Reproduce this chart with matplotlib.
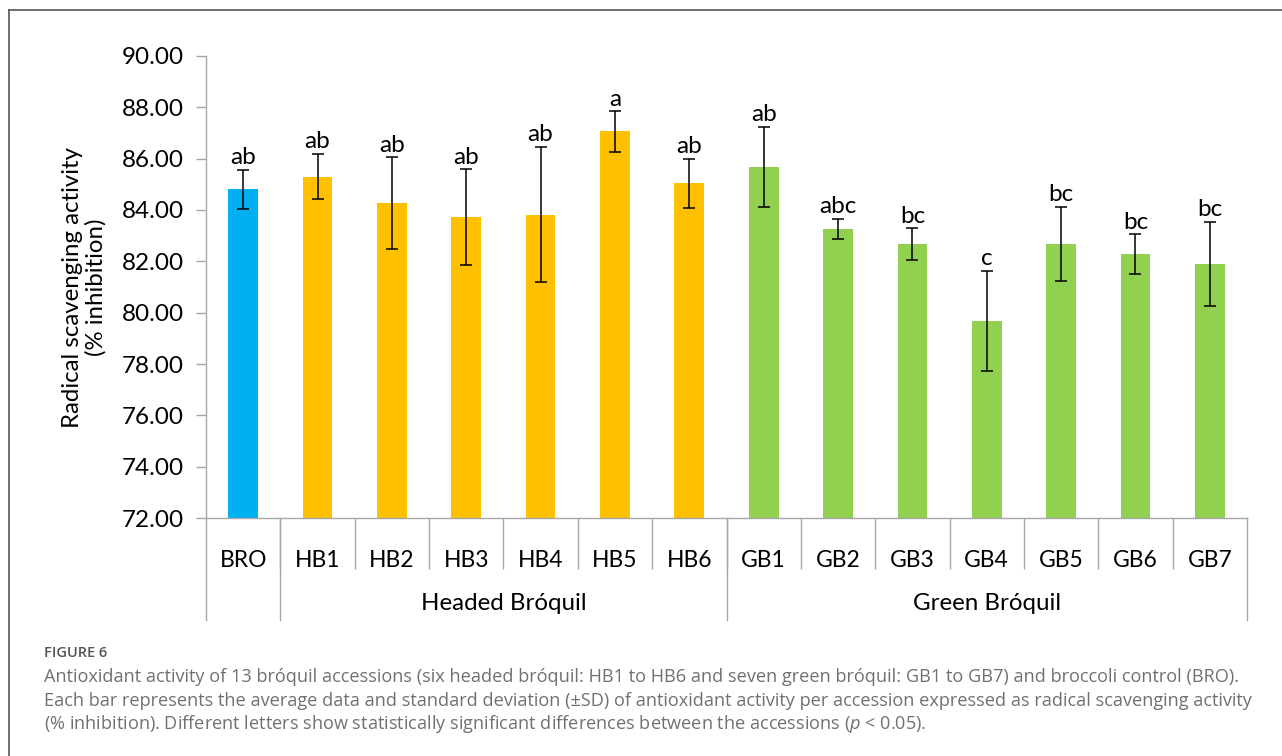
import matplotlib

matplotlib.use("Agg")
import matplotlib.pyplot as plt  # noqa: E402
from matplotlib.lines import Line2D  # noqa: E402
import numpy as np  # noqa: E402

# radical scavenging activity (% inhibition), mean and SD per accession
accessions = ["BRO", "HB1", "HB2", "HB3", "HB4", "HB5", "HB6",
              "GB1", "GB2", "GB3", "GB4", "GB5", "GB6", "GB7"]
groups = ["BRO", "HB", "HB", "HB", "HB", "HB", "HB",
          "GB", "GB", "GB", "GB", "GB", "GB", "GB"]
means = [84.80, 85.30, 84.28, 83.72, 83.82, 87.06, 85.04,
         85.68, 83.26, 82.68, 79.68, 82.68, 82.28, 81.90]
sd = [0.77, 0.89, 1.78, 1.88, 2.64, 0.79, 0.96,
      1.57, 0.40, 0.61, 1.95, 1.45, 0.77, 1.65]
letters = ["ab", "ab", "ab", "ab", "ab", "a", "ab",
           "ab", "abc", "bc", "c", "bc", "bc", "bc"]
group_labels = ["Headed Bróquil", "Green Bróquil"]

colors = {"BRO": "#00B0F0", "HB": "#FFC000", "GB": "#92D050"}
grey = "#A6A6A6"
font = ["Lato", "DejaVu Sans"]
cap_font = ["Open Sans", "DejaVu Sans"]

caption_lines = [
    "Antioxidant activity of 13 bróquil accessions (six headed bróquil: HB1 to HB6 and seven green "
    "bróquil: GB1 to GB7) and broccoli control (BRO).",
    "Each bar represents the average data and standard deviation (±SD) of antioxidant activity per "
    "accession expressed as radical scavenging activity",
    "(% inhibition). Different letters show statistically significant differences between the "
    "accessions ($\\it{p}$ < 0.05).",
]

plt.rcParams["font.family"] = font
plt.rcParams["mathtext.fontset"] = "custom"
plt.rcParams["mathtext.it"] = "Open Sans:italic"

fig = plt.figure(figsize=(12.82, 7.56), dpi=100)
ax = fig.add_axes([206 / 1282, 1 - 518 / 756, (1247 - 206) / 1282, (518 - 56) / 756])

x = np.arange(len(accessions))
ax.bar(x, np.array(means) - 72, bottom=72, width=0.4,
       color=[colors[g] for g in groups], zorder=2)
ax.errorbar(x, means, yerr=sd, fmt="none", ecolor="black", elinewidth=1.1,
            capsize=4.6, capthick=1.1, zorder=3)
for xi, m, s, lab in zip(x, means, sd, letters):
    ax.annotate(lab, (xi, m + s), xytext=(0, 1), textcoords="offset points",
                ha="center", va="bottom", fontsize=17.5, color="black")

ax.set_xlim(-0.5, len(accessions) - 0.5)
ax.set_ylim(72, 90)
ax.set_yticks(np.arange(72, 90.1, 2))
ax.set_yticklabels([f"{v:.2f}" for v in np.arange(72, 90.1, 2)])
ax.tick_params(axis="y", length=7, width=1, color=grey, pad=9, labelsize=17.5)
ax.set_xticks(x)
ax.set_xticklabels(accessions)
ax.tick_params(axis="x", which="major", length=0, pad=23, labelsize=16.5)
ax.set_xticks(x[1:] - 0.5, minor=True)
ax.tick_params(axis="x", which="minor", length=37, width=1, color=grey, direction="out")

for side in ["top", "right"]:
    ax.spines[side].set_visible(False)
for side in ["left", "bottom"]:
    ax.spines[side].set_color(grey)
    ax.spines[side].set_linewidth(1)

ax.set_ylabel("Radical scavenging activity\n(% inhibition)", fontsize=17.3, labelpad=11,
              linespacing=1.1)

# second level of the category axis
trans = ax.get_xaxis_transform()
for xs in [-0.5, 0.5, 6.5, len(accessions) - 0.5]:
    ax.plot([xs, xs], [0, -0.221], transform=trans, color=grey, lw=1, clip_on=False)
ax.text(3.5, -0.184, group_labels[0], transform=trans, ha="center", va="center", fontsize=17.4)
ax.text(10.0, -0.184, group_labels[1], transform=trans, ha="center", va="center", fontsize=17.4)

# caption under the chart
fig.text(44 / 1282, 1 - 653 / 756, "FIGURE 6", fontsize=10.5, color="#555555",
         ha="left", va="center", family=cap_font, fontweight="semibold")
for i, line in enumerate(caption_lines):
    fig.text(44 / 1282, 1 - (677 + 23.5 * i) / 756, line, fontsize=13.1, color="#707070",
             ha="left", va="center", family=cap_font)

# outer frame
fig.add_artist(Line2D([9 / 1282, 1], [1 - 10 / 756, 1 - 10 / 756], color="#555555", lw=1.2))
fig.add_artist(Line2D([9 / 1282, 9 / 1282], [0, 1 - 10 / 756], color="#555555", lw=1.2))

fig.savefig("out.png", dpi=100)
